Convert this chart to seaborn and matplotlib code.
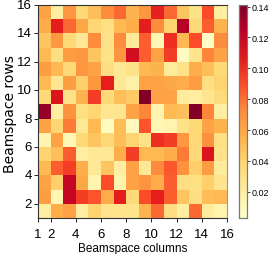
import numpy as np
import matplotlib
matplotlib.use('Agg')
import matplotlib.pyplot as plt
import seaborn as sns

# --- Data (rows listed from the bottom of the picture upwards) ---
row_01 = [0.020, 0.057, 0.062, 0.020, 0.040, 0.028, 0.028, 0.028, 0.054, 0.082, 0.033, 0.020, 0.082, 0.022, 0.015]
row_02 = [0.064, 0.012, 0.120, 0.095, 0.088, 0.058, 0.105, 0.037, 0.090, 0.105, 0.085, 0.047, 0.033, 0.050, 0.052]
row_03 = [0.062, 0.042, 0.120, 0.059, 0.015, 0.090, 0.015, 0.062, 0.069, 0.057, 0.085, 0.033, 0.032, 0.042, 0.028]
row_04 = [0.052, 0.085, 0.095, 0.057, 0.025, 0.047, 0.020, 0.062, 0.025, 0.072, 0.087, 0.069, 0.042, 0.065, 0.022]
row_05 = [0.040, 0.049, 0.085, 0.020, 0.025, 0.025, 0.057, 0.095, 0.052, 0.052, 0.057, 0.077, 0.037, 0.110, 0.030]
row_06 = [0.015, 0.062, 0.012, 0.037, 0.047, 0.037, 0.050, 0.040, 0.030, 0.100, 0.095, 0.067, 0.037, 0.070, 0.032]
row_07 = [0.062, 0.039, 0.077, 0.025, 0.052, 0.008, 0.050, 0.010, 0.088, 0.012, 0.015, 0.030, 0.037, 0.062, 0.055]
row_08 = [0.135, 0.020, 0.069, 0.032, 0.039, 0.027, 0.027, 0.062, 0.074, 0.015, 0.052, 0.049, 0.140, 0.074, 0.020]
row_09 = [0.037, 0.110, 0.030, 0.054, 0.095, 0.037, 0.049, 0.044, 0.140, 0.062, 0.062, 0.022, 0.020, 0.027, 0.036]
row_10 = [0.052, 0.027, 0.064, 0.042, 0.067, 0.105, 0.025, 0.018, 0.062, 0.062, 0.059, 0.057, 0.065, 0.033, 0.040]
row_11 = [0.064, 0.052, 0.037, 0.068, 0.062, 0.033, 0.025, 0.030, 0.052, 0.054, 0.022, 0.030, 0.057, 0.049, 0.037]
row_12 = [0.052, 0.033, 0.064, 0.067, 0.047, 0.030, 0.068, 0.115, 0.085, 0.062, 0.095, 0.008, 0.028, 0.074, 0.062]
row_13 = [0.047, 0.067, 0.037, 0.025, 0.072, 0.030, 0.072, 0.023, 0.085, 0.012, 0.100, 0.052, 0.090, 0.006, 0.072]
row_14 = [0.057, 0.105, 0.082, 0.060, 0.039, 0.032, 0.052, 0.057, 0.105, 0.072, 0.040, 0.125, 0.037, 0.085, 0.054]
row_15 = [0.062, 0.020, 0.068, 0.037, 0.049, 0.072, 0.082, 0.054, 0.068, 0.104, 0.082, 0.047, 0.030, 0.090, 0.020]

x_tick_values = [1, 2, 4, 6, 8, 10, 12, 14, 16]
y_tick_values = [2, 4, 6, 8, 10, 12, 14, 16]
cbar_ticks = [0.02, 0.04, 0.06, 0.08, 0.10, 0.12, 0.14]

FONT = 'Liberation Sans'

matrix = np.array([row_01, row_02, row_03, row_04, row_05, row_06, row_07, row_08,
                   row_09, row_10, row_11, row_12, row_13, row_14, row_15])

fig = plt.figure(figsize=(2.75, 2.55), dpi=100)
ax = fig.add_axes([38 / 275, 36 / 255, 189 / 275, 213 / 255])
cax = fig.add_axes([239 / 275, 36 / 255, 7.5 / 275, 213 / 255])

sns.heatmap(matrix, cmap='YlOrRd', vmin=0.003, vmax=0.141, ax=ax, cbar_ax=cax,
            cbar_kws={'ticks': cbar_ticks}, square=False)
ax.invert_yaxis()

# heatmap cells sit on 0..15, the tick labels run 1..16
ax.set_xticks([t - 1 for t in x_tick_values])
ax.set_xticklabels(x_tick_values, rotation=0, family=FONT, fontsize=9.5)
ax.set_yticks([t - 1 for t in y_tick_values])
ax.set_yticklabels(y_tick_values, rotation=0, family=FONT, fontsize=9.5)
ax.tick_params(axis='x', length=3, width=0.7, pad=4, color='#222222')
ax.tick_params(axis='y', length=3, width=0.7, pad=1.5, color='#222222')

ax.set_xlabel('Beamspace columns', family=FONT, fontsize=8.5)
ax.xaxis.set_label_coords(0.5, -0.115)
ax.set_ylabel('Beamspace rows', fontsize=10)
ax.yaxis.set_label_coords(-0.11, 0.495)

for side, spine in ax.spines.items():
    spine.set_visible(True)
    spine.set_linewidth(0.8)
    spine.set_color('#333333' if side in ('top', 'left', 'bottom') else '#999999')

cax.tick_params(length=2, width=0.6, pad=1.5, color='#222222')
cax.set_yticklabels(['%.2f' % t for t in cbar_ticks], family=FONT, fontsize=6.5)
for spine in cax.spines.values():
    spine.set_visible(True)
    spine.set_linewidth(0.8)
    spine.set_color('#777777')

fig.savefig('out.png', dpi=100)
